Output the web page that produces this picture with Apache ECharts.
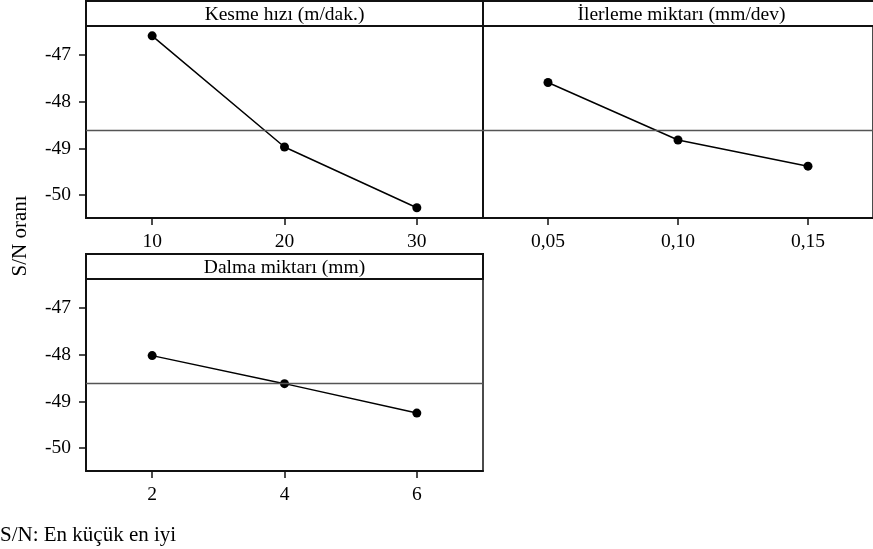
<!DOCTYPE html>
<html>
<head>
<meta charset="utf-8">
<script src="https://cdn.jsdelivr.net/npm/echarts@6/dist/echarts.min.js"></script>
<style>html,body{margin:0;padding:0;background:#fff}#c{width:873px;height:549px}</style>
</head>
<body>
<div id="c"></div>
<script>
// ---- data ----
const panelTitles = ['Kesme hızı (m/dak.)', 'İlerleme miktarı (mm/dev)', 'Dalma miktarı (mm)'];
const speedLevels = ['10', '20', '30'];
const feedLevels = ['0,05', '0,10', '0,15'];
const depthLevels = ['2', '4', '6'];
const speedSN = [-46.59, -48.97, -50.27];
const feedSN = [-47.59, -48.82, -49.38];
const depthSN = [-48.02, -48.62, -49.25];
const grandMean = -48.62;
const yTickValues = [-50, -49, -48, -47];
const yAxisTitle = 'S/N oranı';
const footNote = 'S/N: En küçük en iyi';

// ---- layout ----
const FONT = 'Liberation Serif';
const panels = [
  { left: 86, top: 26, stripTop: 1, cats: speedLevels, vals: speedSN, showY: true },
  { left: 483, top: 26, stripTop: 1, cats: feedLevels, vals: feedSN, showY: false },
  { left: 86, top: 279, stripTop: 254, cats: depthLevels, vals: depthSN, showY: true }
];
const W = 397, H = 192;

const grid = [], xAxis = [], yAxis = [], series = [], graphic = [];
panels.forEach((p, i) => {
  grid.push({ left: p.left, top: p.top, width: W, height: H, show: true,
    borderColor: '#111', borderWidth: 1.5, backgroundColor: 'transparent', containLabel: false });
  xAxis.push({ type: 'category', gridIndex: i, data: p.cats, boundaryGap: true,
    axisLine: { show: true, lineStyle: { color: '#111', width: 2 } },
    axisTick: { show: true, alignWithLabel: true, length: 7, lineStyle: { color: '#111', width: 1.5 } },
    axisLabel: { color: '#000', fontFamily: FONT, fontSize: 19.5, margin: 14 },
    splitLine: { show: false } });
  yAxis.push({ type: 'value', gridIndex: i, min: -50.49, max: -46.38,
    axisLine: { show: true, lineStyle: { color: '#111', width: 2 } },
    axisTick: { show: p.showY, length: 7, customValues: yTickValues, lineStyle: { color: '#111', width: 1.5 } },
    axisLabel: { show: p.showY, customValues: yTickValues, color: '#000', fontFamily: FONT, fontSize: 19.5, margin: 15 },
    splitLine: { show: false } });
  series.push({ type: 'line', xAxisIndex: i, yAxisIndex: i, data: p.vals,
    symbol: 'circle', symbolSize: 9, itemStyle: { color: '#000' },
    lineStyle: { color: '#000', width: 1.5 }, animation: false, z: 3,
    markLine: { silent: true, symbol: 'none', label: { show: false },
      lineStyle: { color: '#555', width: 1.3, type: 'solid' },
      data: [{ yAxis: grandMean }], animation: false } });
  graphic.push({ type: 'rect', shape: { x: p.left, y: p.stripTop, width: W, height: p.top - p.stripTop },
    style: { fill: '#fff', stroke: '#111', lineWidth: 2 }, z: 10 });
  graphic.push({ type: 'text', x: p.left + W / 2, y: (p.stripTop + p.top) / 2 + 1.5,
    style: { text: panelTitles[i], fill: '#000', font: '19.5px "' + FONT + '"', textAlign: 'center', textVerticalAlign: 'middle' }, z: 11 });
});
graphic.push({ type: 'text', x: 20, y: 236, rotation: Math.PI / 2,
  style: { text: yAxisTitle, fill: '#000', font: '21px "' + FONT + '"', textAlign: 'center', textVerticalAlign: 'middle' } });
graphic.push({ type: 'text', x: 0, y: 535,
  style: { text: footNote, fill: '#000', font: '21px "' + FONT + '"', textAlign: 'left', textVerticalAlign: 'middle' } });

const chart = echarts.init(document.getElementById('c'), null, { renderer: 'canvas' });
chart.setOption({ animation: false, grid, xAxis, yAxis, series, graphic });
</script>
</body>
</html>
